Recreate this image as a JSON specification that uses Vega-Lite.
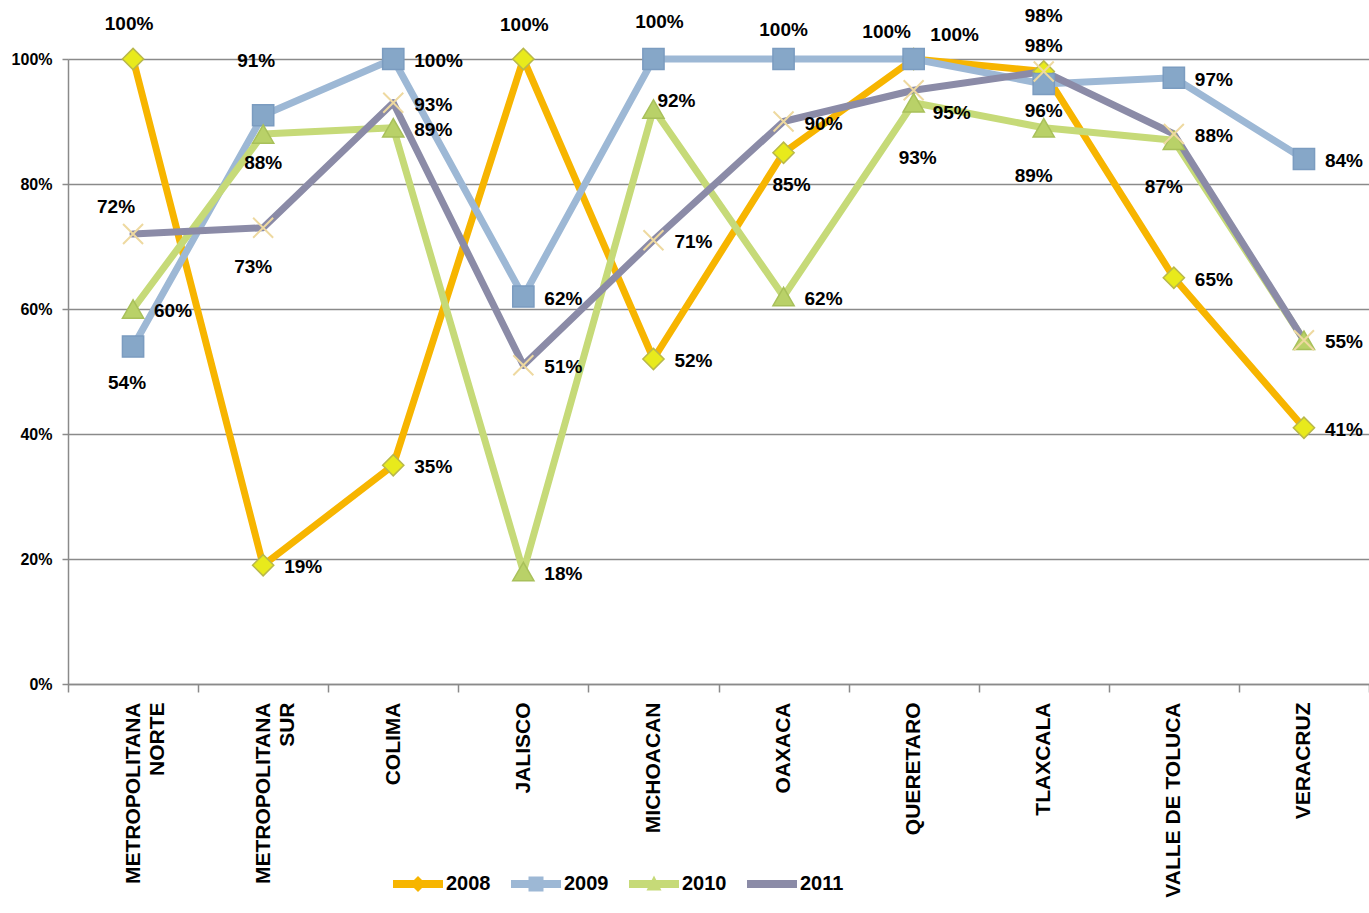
{
  "$schema": "https://vega.github.io/schema/vega-lite/v6.json",
  "width": 1301,
  "height": 625,
  "autosize": "none",
  "padding": {"left": 68, "top": 59, "right": 0, "bottom": 229},
  "background": "white",
  "config": {
    "view": {"stroke": null},
    "font": "Liberation Sans"
  },
  "params": [
    {"name": "labKeys", "value": ["2008|METROPOLITANA NORTE", "2008|JALISCO", "2008|OAXACA", "2008|QUERETARO", "2008|TLAXCALA", "2009|METROPOLITANA NORTE", "2009|METROPOLITANA SUR", "2009|MICHOACAN", "2009|OAXACA", "2009|QUERETARO", "2009|TLAXCALA", "2010|METROPOLITANA SUR", "2010|MICHOACAN", "2010|QUERETARO", "2010|TLAXCALA", "2010|VALLE DE TOLUCA", "2011|METROPOLITANA NORTE", "2011|METROPOLITANA SUR", "2011|QUERETARO", "2011|TLAXCALA"]},
    {"name": "labDx", "value": [-4, 1, 8, -27, 0, -6, -7, 6, 0, 41, 0, 0, 23, 4, -10, -10, -17, -10, 38, 0]},
    {"name": "labDy", "value": [-35, -34, 32, -27, -56, 36, -54, -37, -29, -24, 27, 29, -8, 55, 48, 47, -27, 39, 23, -26]}
  ],
  "data": {
    "values": [
      {"cat": "METROPOLITANA NORTE", "year": "2008", "value": 1.00},
      {"cat": "METROPOLITANA SUR", "year": "2008", "value": 0.19},
      {"cat": "COLIMA", "year": "2008", "value": 0.35},
      {"cat": "JALISCO", "year": "2008", "value": 1.00},
      {"cat": "MICHOACAN", "year": "2008", "value": 0.52},
      {"cat": "OAXACA", "year": "2008", "value": 0.85},
      {"cat": "QUERETARO", "year": "2008", "value": 1.00},
      {"cat": "TLAXCALA", "year": "2008", "value": 0.98},
      {"cat": "VALLE DE TOLUCA", "year": "2008", "value": 0.65},
      {"cat": "VERACRUZ", "year": "2008", "value": 0.41},
      {"cat": "METROPOLITANA NORTE", "year": "2009", "value": 0.54},
      {"cat": "METROPOLITANA SUR", "year": "2009", "value": 0.91},
      {"cat": "COLIMA", "year": "2009", "value": 1.00},
      {"cat": "JALISCO", "year": "2009", "value": 0.62},
      {"cat": "MICHOACAN", "year": "2009", "value": 1.00},
      {"cat": "OAXACA", "year": "2009", "value": 1.00},
      {"cat": "QUERETARO", "year": "2009", "value": 1.00},
      {"cat": "TLAXCALA", "year": "2009", "value": 0.96},
      {"cat": "VALLE DE TOLUCA", "year": "2009", "value": 0.97},
      {"cat": "VERACRUZ", "year": "2009", "value": 0.84},
      {"cat": "METROPOLITANA NORTE", "year": "2010", "value": 0.60},
      {"cat": "METROPOLITANA SUR", "year": "2010", "value": 0.88},
      {"cat": "COLIMA", "year": "2010", "value": 0.89},
      {"cat": "JALISCO", "year": "2010", "value": 0.18},
      {"cat": "MICHOACAN", "year": "2010", "value": 0.92},
      {"cat": "OAXACA", "year": "2010", "value": 0.62},
      {"cat": "QUERETARO", "year": "2010", "value": 0.93},
      {"cat": "TLAXCALA", "year": "2010", "value": 0.89},
      {"cat": "VALLE DE TOLUCA", "year": "2010", "value": 0.87},
      {"cat": "VERACRUZ", "year": "2010", "value": 0.55},
      {"cat": "METROPOLITANA NORTE", "year": "2011", "value": 0.72},
      {"cat": "METROPOLITANA SUR", "year": "2011", "value": 0.73},
      {"cat": "COLIMA", "year": "2011", "value": 0.93},
      {"cat": "JALISCO", "year": "2011", "value": 0.51},
      {"cat": "MICHOACAN", "year": "2011", "value": 0.71},
      {"cat": "OAXACA", "year": "2011", "value": 0.90},
      {"cat": "QUERETARO", "year": "2011", "value": 0.95},
      {"cat": "TLAXCALA", "year": "2011", "value": 0.98},
      {"cat": "VALLE DE TOLUCA", "year": "2011", "value": 0.88},
      {"cat": "VERACRUZ", "year": "2011", "value": 0.55}
    ]
  },
  "encoding": {
    "x": {
      "field": "cat",
      "type": "nominal",
      "sort": ["METROPOLITANA NORTE", "METROPOLITANA SUR", "COLIMA", "JALISCO", "MICHOACAN", "OAXACA", "QUERETARO", "TLAXCALA", "VALLE DE TOLUCA", "VERACRUZ"],
      "scale": {"type": "band", "paddingInner": 0, "paddingOuter": 0},
      "axis": {
        "title": null,
        "labelAngle": -90,
        "labelFontSize": 21,
        "labelFontWeight": "bold",
        "labelColor": "black",
        "labelPadding": 10,
        "labelLimit": 0,
        "labelLineHeight": 24,
        "labelExpr": "datum.label == 'METROPOLITANA NORTE' ? ['METROPOLITANA', 'NORTE'] : datum.label == 'METROPOLITANA SUR' ? ['METROPOLITANA', 'SUR'] : datum.label",
        "encode": {
          "labels": {
            "update": {
              "align": {"signal": "indexof(datum.value, 'METROPOLITANA') >= 0 ? 'center' : 'right'"},
              "dx": {"signal": "indexof(datum.value, 'METROPOLITANA') >= 0 ? -95 : 0"},
              "dy": {"signal": "indexof(datum.value, 'METROPOLITANA') >= 0 ? -12 : 0"}
            }
          }
        },
        "tickBand": "extent",
        "tickSize": 8,
        "tickColor": "#8a8a8a",
        "tickWidth": 1.5,
        "domainColor": "#8a8a8a",
        "domainWidth": 1.5,
        "grid": false
      }
    },
    "y": {
      "field": "value",
      "type": "quantitative",
      "scale": {"domain": [0, 1]},
      "axis": {
        "title": null,
        "values": [0, 0.2, 0.4, 0.6, 0.8, 1],
        "format": ".0%",
        "grid": true,
        "gridColor": "#8a8a8a",
        "gridWidth": 1.5,
        "domainColor": "#8a8a8a",
        "domainWidth": 1.5,
        "tickColor": "#8a8a8a",
        "tickWidth": 1.5,
        "tickSize": 6,
        "labelFontSize": 16,
        "labelFontWeight": "bold",
        "labelColor": "black",
        "labelPadding": 10
      }
    }
  },
  "layer": [
    {
      "mark": {"type": "line", "strokeWidth": 7, "strokeJoin": "round", "strokeCap": "round"},
      "encoding": {
        "color": {
          "field": "year",
          "type": "nominal",
          "scale": {"domain": ["2008", "2009", "2010", "2011"], "range": ["#F7B500", "#9DB8D5", "#C6DA78", "#8B8BA7"]},
          "legend": {
            "title": null,
            "orient": "none",
            "legendX": 325,
            "legendY": 800,
            "direction": "horizontal",
            "symbolSize": 2500,
            "labelFontSize": 20,
            "labelFontWeight": "bold",
            "labelColor": "black",
            "labelOffset": 3,
            "columnPadding": 20,
            "encode": {
              "symbols": {
                "update": {
                  "shape": {"signal": "datum.value == '2008' ? 'M-1,-0.16H1V0.16H-1Z M0,-0.32L0.32,0L0,0.32L-0.32,0Z' : datum.value == '2009' ? 'M-1,-0.16H1V0.16H-1Z M-0.3,-0.3H0.3V0.3H-0.3Z' : datum.value == '2010' ? 'M-1,-0.16H1V0.16H-1Z M0,-0.34L0.3,0.26H-0.3Z' : 'M-1,-0.16H1V0.16H-1Z'"},
                  "fill": {"scale": "color", "field": "value"},
                  "stroke": {"value": "transparent"},
                  "strokeWidth": {"value": 0},
                  "size": {"value": 2500}
                }
              }
            }
          }
        }
      }
    },
    {
      "transform": [{"filter": "datum.year == '2008'"}],
      "mark": {"type": "point", "shape": "diamond", "filled": true, "opacity": 1, "size": 450, "fill": "#E8EA1C", "stroke": "#B9B84A", "strokeWidth": 1.5},
      "encoding": {}
    },
    {
      "transform": [{"filter": "datum.year == '2009'"}],
      "mark": {"type": "point", "shape": "square", "filled": true, "opacity": 1, "size": 450, "fill": "#86A7C8", "stroke": "#7B9CC0", "strokeWidth": 1.5},
      "encoding": {}
    },
    {
      "transform": [{"filter": "datum.year == '2010'"}],
      "mark": {"type": "point", "shape": "triangle-up", "filled": true, "opacity": 1, "size": 450, "fill": "#B9D168", "stroke": "#A8C05A", "strokeWidth": 1.5},
      "encoding": {}
    },
    {
      "transform": [{"filter": "datum.year == '2011'"}],
      "mark": {"type": "point", "shape": "M-1,-1L1,1M-1,1L1,-1", "filled": false, "opacity": 1, "size": 400, "stroke": "#EED9A0", "strokeWidth": 2},
      "encoding": {}
    },
    {
      "transform": [{"filter": "!(datum.year == '2011' && datum.cat == 'VERACRUZ')"}],
      "mark": {
        "type": "text",
        "fontSize": 19,
        "fontWeight": "bold",
        "color": "black",
        "baseline": "middle",
        "align": {"expr": "indexof(labKeys, datum.year + '|' + datum.cat) < 0 ? 'left' : 'center'"},
        "dx": {"expr": "indexof(labKeys, datum.year + '|' + datum.cat) < 0 ? 21 : labDx[indexof(labKeys, datum.year + '|' + datum.cat)]"},
        "dy": {"expr": "indexof(labKeys, datum.year + '|' + datum.cat) < 0 ? 2 : labDy[indexof(labKeys, datum.year + '|' + datum.cat)]"}
      },
      "encoding": {
        "text": {"field": "value", "type": "quantitative", "format": ".0%"}
      }
    }
  ]
}
